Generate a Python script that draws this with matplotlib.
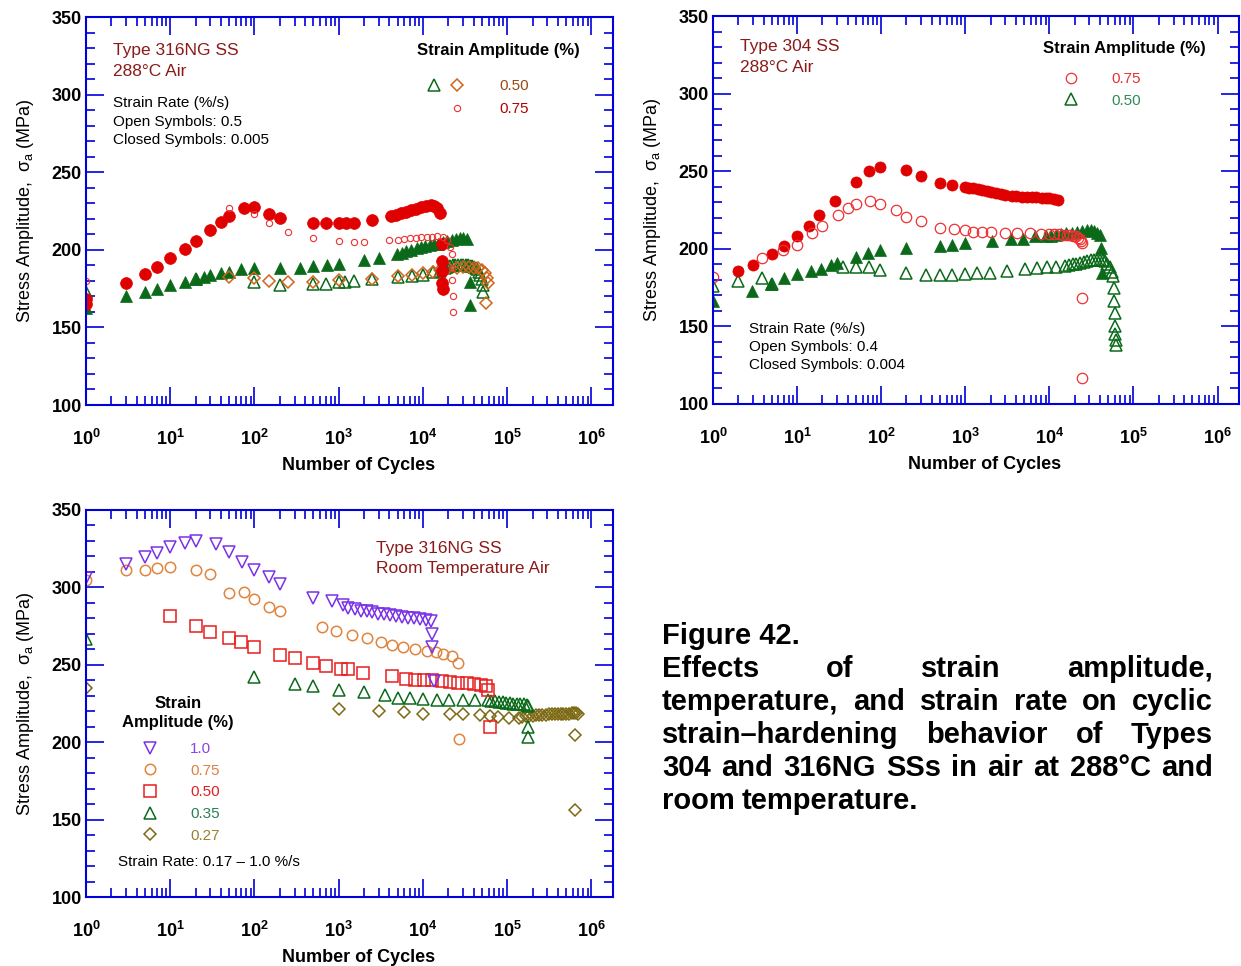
import matplotlib
matplotlib.use('Agg')
import matplotlib.pyplot as plt
from matplotlib.lines import Line2D
from matplotlib.legend_handler import HandlerTuple
from matplotlib.ticker import FixedLocator, FuncFormatter, LogLocator, MultipleLocator, NullFormatter
import numpy as np

plt.rcParams['font.family'] = ['Liberation Sans', 'DejaVu Sans']
plt.rcParams['font.weight'] = 'bold'
plt.rcParams['mathtext.fontset'] = 'custom'
plt.rcParams['mathtext.rm'] = 'Liberation Sans'

W, H = 1241, 966

# ---------------- Type 316NG SS, 288C air ----------------
# 0.75 %, slow (closed circles)
n316_075_slow = [1, 1, 3, 5, 7, 10, 15, 20, 30, 40, 50, 75, 100, 150, 200, 500, 700, 1000, 1230, 1500,
                 2500, 4200, 4800, 5500, 6300, 7200, 8300, 9500, 11000, 12300, 13500, 14800, 15800,
                 16600, 16800, 17000, 17000, 17200]
s316_075_slow = [168, 165, 178.5, 184.5, 189, 194.5, 200.5, 205.5, 213, 218, 222, 227, 227.5, 223, 220.5,
                 217.5, 217.5, 217.5, 217.5, 217.5, 219, 221.5, 222.5, 223.5, 224.5, 225.5, 226.5, 227.5,
                 228.5, 229, 228.5, 227, 224, 204, 193, 186.5, 178.5, 175]
# 0.75 %, fast (small open circles)
n316_075_fast = [1, 50, 100, 150, 250, 500, 1000, 1500, 2000, 4000, 5100, 6000, 7100, 8300, 9500, 11200,
                 12900, 14800, 17400, 19500, 21000, 21900, 21900, 21900, 22400, 22900]
s316_075_fast = [180, 227, 223, 217, 211.5, 207.5, 205.5, 205, 205, 206, 206.5, 207, 207.5, 207.5, 208,
                 208.5, 208.5, 209, 208.5, 206, 202, 197.5, 188, 180.5, 170.5, 160]
# 0.50 %, slow (closed triangles)
n316_050_slow = [1, 3, 5, 7, 10, 15, 20, 25, 30, 40, 50, 70, 100, 200, 350, 500, 720, 1000, 2000, 3000,
                 4900, 5600, 6300, 7200, 8500, 9500, 10700, 12000, 13500, 15200, 17400, 19500, 21900,
                 24500, 27500, 30000, 33000, 36300, 36300]
s316_050_slow = [162.5, 170, 172.5, 174.5, 177.5, 179.5, 181.5, 182.5, 184, 185, 186, 187.5, 188, 188,
                 188.5, 189.5, 190, 191, 193.5, 194.5, 197, 198, 199, 200, 201, 201.5, 202.5, 203, 203.5,
                 204, 205, 205.5, 206, 207, 207.5, 207.5, 207, 179.5, 164.5]
# 0.50 %, fast (open triangles)
n316_050_fast = [1, 20, 100, 200, 500, 700, 1000, 1200, 1500, 2500, 5000, 7500, 10000, 13000, 16000,
                 18000, 19500, 21000, 22500, 24000, 26000, 28000, 30000, 32000, 34000, 36000, 38000,
                 40000, 42000, 44000, 46000, 48000, 50000, 51000, 52000]
s316_050_fast = [173, 181, 179, 177.5, 178, 178, 179, 179.5, 180, 181, 182.5, 183, 184, 185.5, 186.5,
                 188, 189, 189.5, 190, 190, 190, 190, 190, 190, 190, 189.5, 189.5, 189, 188.5, 187.5,
                 186, 184, 181, 177.5, 173]
# 0.50 %, open diamonds
n316_050_dia = [50, 100, 150, 250, 500, 1000, 2500, 5000, 7500, 10000, 13000, 16000, 20000, 25000,
                30000, 35000, 40000, 45000, 50000, 55000, 58000, 59000, 56000]
s316_050_dia = [182.5, 182, 180, 179, 179, 180.5, 181.5, 183, 184, 185, 186, 187, 188, 188.5, 189, 189,
                188.5, 188, 187, 185, 182, 178.5, 165.5]

# ---------------- Type 304 SS, 288C air ----------------
n304_075_slow = [2, 3, 5, 7, 10, 14, 18, 28, 50, 72, 98, 200, 300, 500, 700, 980, 1100, 1230, 1400,
                 1580, 1800, 2000, 2300, 2630, 3000, 3550, 4000, 4680, 5400, 6170, 7000, 8130, 9000,
                 10000, 11300, 12600]
s304_075_slow = [186, 189.5, 196.5, 202, 208, 214.5, 221.5, 231, 243, 250, 253, 251, 247, 242.5, 241,
                 239.5, 239, 239, 238.5, 238, 237.5, 236.5, 236, 235, 234.5, 234, 234, 233.5, 233.5,
                 233.5, 233.5, 233, 233, 232.5, 232, 231.5]
n304_075_fast = [1, 3.8, 6.8, 10, 15, 20, 31, 40, 50, 74, 98, 150, 200, 295, 500, 740, 1000, 1230, 1580,
                 2000, 2950, 4170, 5890, 7940, 10000, 11500, 13000, 14500, 16000, 17500, 19000, 20500,
                 22000, 23000, 24000, 24500, 24500, 24500]
s304_075_fast = [182, 194, 199.5, 202.5, 210, 214.5, 221.5, 226, 229, 231, 229, 225, 220.5, 218, 213.5,
                 212.5, 212, 211, 211, 211, 210, 210, 210, 209.5, 209.5, 209.5, 209.5, 209, 209, 209,
                 208.5, 208, 207, 206, 205, 203.5, 168.5, 117]
n304_050_slow = [1, 2.9, 4.9, 6.9, 10, 14.5, 19, 25, 30, 50, 69, 98, 200, 500, 700, 1000, 2100, 3500,
                 4900, 6800, 9100, 10500, 12000, 13800, 15800, 18500, 21400, 24500, 28200, 31000, 33900,
                 36500, 39800, 40700, 41700]
s304_050_slow = [166.5, 173, 177, 181, 183.5, 185.5, 187, 189.5, 191, 195, 197, 199.5, 200.5, 201.5,
                 202.5, 203.5, 205, 206, 206.5, 208, 208, 208.5, 209, 209.5, 210, 210.5, 211, 211.5, 212,
                 212, 211.5, 210.5, 209, 200.5, 184.5]
n304_050_fast = [1, 2, 3.8, 5, 35, 50, 72, 98, 200, 345, 500, 700, 1000, 1380, 1950, 3150, 5100, 7200,
                 9500, 12000, 15500, 17000, 19000, 21000, 23000, 25500, 28000, 31000, 34000, 37000,
                 40000, 43000, 46000, 49000, 52000, 55000, 57000, 58000, 59000, 60000, 60500, 61000,
                 61500, 62000]
s304_050_fast = [176, 179, 181, 177, 188.5, 188.5, 188, 186.5, 184.5, 183, 183, 183, 184, 184.5, 184.5,
                 185.5, 187, 187.5, 188, 188.5, 189, 189.5, 190, 190.5, 191, 191.5, 192, 192.5, 193, 193,
                 193, 192.5, 192, 190.5, 188, 185, 182.5, 174.5, 166.5, 158.5, 150, 145, 141, 138]

# ---------------- Type 316NG SS, room temperature air ----------------
nrt_100 = [1, 3, 5, 7, 10, 15, 20, 35, 50, 72, 100, 150, 200, 500, 830, 1120, 1290, 1550, 1820, 2140,
           2500, 2950, 3450, 4050, 4750, 5600, 6600, 7800, 9200, 10800, 12300, 12900, 12900, 13500]
srt_100 = [306, 315, 319.5, 322.5, 326, 328.5, 330, 328, 323, 316.5, 311.5, 306.5, 302.5, 293, 291,
           288.5, 287, 286, 285, 284.5, 284, 283, 282.5, 282, 281.5, 281, 280.5, 280, 279.5, 279, 278,
           270, 261.5, 239.5]
nrt_075 = [1, 3, 5, 7, 10, 20, 30, 50, 75, 100, 150, 200, 630, 920, 1450, 2150, 3200, 4300, 5800, 8100,
           11200, 14100, 17400, 21900, 25700, 27000]
srt_075 = [305, 311, 311.5, 312.5, 313.5, 311.5, 308.5, 296.5, 297, 292.5, 287.5, 285, 274.5, 272,
           269.5, 267, 265, 263, 261.5, 260, 259, 258, 257, 255.5, 251, 202]
nrt_050 = [10, 20, 30, 50, 70, 100, 200, 300, 500, 700, 1060, 1290, 1950, 4300, 6300, 8100, 10200, 12900,
           16600, 20900, 26300, 33100, 40700, 49000, 56200, 59000, 61700]
srt_050 = [281.5, 275, 271.5, 267.5, 264.5, 261.5, 256.5, 254.5, 251, 249.5, 247.5, 247.5, 245, 242.5,
           241, 240.5, 240, 240, 239.5, 239, 238.5, 238.5, 237.5, 237, 236, 234, 209.5]
nrt_035 = [1, 100, 300, 500, 1000, 2000, 3500, 5100, 7100, 10000, 14500, 20400, 30200, 41700, 58900,
           65000, 72000, 80000, 88000, 97000, 107000, 118000, 130000, 143000, 157000, 170000, 178000,
           178000, 178000]
srt_035 = [266.5, 242, 237.5, 236.5, 233.5, 232.5, 230.5, 228.5, 228.5, 228, 227.5, 227.5, 227.5, 227.5,
           227, 226.5, 226.5, 226, 226, 225.5, 225.5, 225, 225, 224.5, 224.5, 224, 223.5, 210, 203.5]
nrt_027 = [1, 1000, 3000, 6000, 10000, 21000, 30000, 47000, 62000, 78000, 105000, 138000, 150000,
           165000, 180000, 200000, 220000, 240000, 260000, 285000, 310000, 340000, 370000, 400000,
           430000, 460000, 500000, 540000, 580000, 620000, 660000, 700000, 630000, 630000]
srt_027 = [235, 221.5, 220, 219.5, 218.5, 218, 218, 217.5, 217, 216.5, 215.5, 215.5, 216.5, 217, 217,
           217, 217.5, 217.5, 217.5, 217.5, 218, 218, 218, 218, 218, 218.5, 218.5, 218.5, 219, 219,
           219, 218.5, 204.5, 156]

RED = '#e00000'
GREEN = '#0b6a1a'
ORANGE = '#d0641a'
PURPLE = '#7a32e6'
ORANGE_C = '#e0843e'
RED_SQ = '#e81e1e'
OLIVE = '#7d6914'
DARKRED = '#8b1a1a'
AXBLUE = '#0000dc'


def fx(x):
    return x / W


def fy(y):
    return 1 - y / H


def setup(ax):
    ax.set_xscale('log')
    ax.set_xlim(1, 1.8e6)
    ax.set_ylim(100, 350)
    ax.xaxis.set_major_locator(FixedLocator(10.0 ** np.arange(0, 7)))
    ax.xaxis.set_minor_locator(LogLocator(base=10, subs=np.arange(2, 10), numticks=30))
    ax.xaxis.set_major_formatter(FuncFormatter(lambda v, p: r'$\mathregular{10^{%d}}$' % round(np.log10(v))))
    ax.xaxis.set_minor_formatter(NullFormatter())
    ax.yaxis.set_major_locator(MultipleLocator(50))
    ax.yaxis.set_minor_locator(MultipleLocator(10))
    ax.tick_params(which='both', direction='in', top=True, right=True, color=AXBLUE, width=1.2,
                   labelsize=13)
    ax.tick_params(which='major', length=13)
    ax.tick_params(which='minor', length=6.5)
    ax.tick_params(axis='x', pad=17)
    ax.tick_params(axis='y', pad=3)
    for s in ax.spines.values():
        s.set_color(AXBLUE)
        s.set_linewidth(1.5)
    ax.set_xlabel('Number of Cycles', fontsize=13, fontweight='bold', labelpad=6)
    ax.xaxis.label.set_x(0.517)
    ax.set_ylabel('Stress Amplitude,  σ$_\\mathregular{a}$ (MPa)', fontsize=13, fontweight='normal',
                  labelpad=11)


def lines(fig, x, ys, texts, **kw):
    for y, t in zip(ys, texts):
        fig.text(fx(x), fy(y), t, va='center', ha='left', **kw)


def opn(ax, n, s, marker, color, ms, mew=1.1):
    return ax.plot(n, s, ls='none', marker=marker, ms=ms, mfc='none', mec=color, mew=mew)[0]


def cls(ax, n, s, marker, color, ms):
    return ax.plot(n, s, ls='none', marker=marker, ms=ms, color=color, mec=color, mew=0.5)[0]


fig = plt.figure(figsize=(W / 100, H / 100), dpi=100)
ax1 = fig.add_axes([fx(86), fy(405), (613 - 86) / W, (405 - 17) / H])
ax2 = fig.add_axes([fx(713), fy(404), (1239 - 713) / W, (404 - 16) / H])
ax3 = fig.add_axes([fx(86), fy(897), (613 - 86) / W, (897 - 510) / H])
for ax in (ax1, ax2, ax3):
    setup(ax)

# ---- panel 1 ----
cls(ax1, n316_050_slow, s316_050_slow, '^', GREEN, 9)
h_tri = opn(ax1, n316_050_fast, s316_050_fast, '^', GREEN, 8.5)
h_dia = opn(ax1, n316_050_dia, s316_050_dia, 'D', ORANGE, 6.5)
cls(ax1, n316_075_slow, s316_075_slow, 'o', RED, 8.5)
h_cir = opn(ax1, n316_075_fast, s316_075_fast, 'o', '#f03030', 4.5, 0.8)
blank = Line2D([], [], ls='none', marker=None)
leg = ax1.legend([(h_tri, h_dia), (blank, h_cir)], ['0.50', '0.75'],
                 handler_map={tuple: HandlerTuple(ndivide=None, pad=0)},
                 loc='upper left', bbox_to_anchor=(fx(423), fy(79)), bbox_transform=fig.transFigure,
                 frameon=False, borderpad=0, borderaxespad=0, numpoints=1, handlelength=3.0,
                 handletextpad=2.0, labelspacing=0.6, prop=dict(size=11, weight='normal'))
for t, c in zip(leg.get_texts(), ['#9a4a10', '#b00000']):
    t.set_color(c)
fig.text(fx(417), fy(51), 'Strain Amplitude (%)', fontsize=12, va='center')
lines(fig, 113, [51, 71], ['Type 316NG SS', '288°C Air'], fontsize=12.5, color=DARKRED, fontweight='normal')
lines(fig, 113, [103, 122, 140], ['Strain Rate (%/s)', 'Open Symbols: 0.5', 'Closed Symbols: 0.005'],
      fontsize=11, fontweight='normal')

# ---- panel 2 ----
cls(ax2, n304_050_slow, s304_050_slow, '^', GREEN, 9)
h2_tri = opn(ax2, n304_050_fast, s304_050_fast, '^', GREEN, 8.5)
cls(ax2, n304_075_slow, s304_075_slow, 'o', RED, 8)
h2_cir = opn(ax2, n304_075_fast, s304_075_fast, 'o', '#f03030', 7.5, 0.9)
leg2 = ax2.legend([h2_cir, h2_tri], ['0.75', '0.50'], loc='upper left',
                  bbox_to_anchor=(fx(1056), fy(72)), bbox_transform=fig.transFigure,
                  frameon=False, borderpad=0, borderaxespad=0, numpoints=1, handlelength=2.0,
                  handletextpad=1.6, labelspacing=0.5, prop=dict(size=11, weight='normal'))
for t, c in zip(leg2.get_texts(), ['#e83030', '#2e8b57']):
    t.set_color(c)
fig.text(fx(1043), fy(49), 'Strain Amplitude (%)', fontsize=12, va='center')
lines(fig, 740, [47, 68], ['Type 304 SS', '288°C Air'], fontsize=12.5, color=DARKRED, fontweight='normal')
lines(fig, 749, [329, 347, 365], ['Strain Rate (%/s)', 'Open Symbols: 0.4', 'Closed Symbols: 0.004'],
      fontsize=11, fontweight='normal')

# ---- panel 3 ----
h3_027 = opn(ax3, nrt_027, srt_027, 'D', OLIVE, 6.5)
h3_035 = opn(ax3, nrt_035, srt_035, '^', GREEN, 8.5)
h3_050 = opn(ax3, nrt_050, srt_050, 's', RED_SQ, 8.5)
h3_075 = opn(ax3, nrt_075, srt_075, 'o', ORANGE_C, 7.5)
h3_100 = opn(ax3, nrt_100, srt_100, 'v', PURPLE, 8.5)
leg3 = ax3.legend([h3_100, h3_075, h3_050, h3_035, h3_027], ['1.0', '0.75', '0.50', '0.35', '0.27'],
                  loc='upper left', bbox_to_anchor=(fx(135), fy(742)), bbox_transform=fig.transFigure,
                  frameon=False, borderpad=0, borderaxespad=0, numpoints=1, handlelength=2.0,
                  handletextpad=1.6, labelspacing=0.5, prop=dict(size=11, weight='normal'))
for t, c in zip(leg3.get_texts(), ['#9040e0', '#e08040', '#e02020', '#2a8050', '#9a8030']):
    t.set_color(c)
fig.text(fx(178), fy(703), 'Strain', fontsize=12, va='center', ha='center')
fig.text(fx(178), fy(722), 'Amplitude (%)', fontsize=12, va='center', ha='center')
fig.text(fx(118), fy(862), 'Strain Rate: 0.17 – 1.0 %/s', fontsize=11, va='center', fontweight='normal')
lines(fig, 376, [548, 569], ['Type 316NG SS', 'Room Temperature Air'], fontsize=12.5, color=DARKRED,
      fontweight='normal')

# ---- caption, justified ----
CAP_L, CAP_R = 662, 1213
fig.text(fx(CAP_L), fy(636), 'Figure 42.', fontsize=21, va='center')
cap_lines = ['Effects of strain amplitude,',
             'temperature, and strain rate on cyclic',
             'strain–hardening behavior of Types',
             '304 and 316NG SSs in air at 288°C and',
             'room temperature.']
renderer = fig.canvas.get_renderer()
for i, line in enumerate(cap_lines):
    y = 669 + 33 * i
    words = line.split(' ')
    objs = [fig.text(0, fy(y), w, fontsize=21, va='center') for w in words]
    widths = [o.get_window_extent(renderer).width for o in objs]
    if i == len(cap_lines) - 1:
        gap = objs[0].get_window_extent(renderer).height * 0.25
    else:
        gap = (CAP_R - CAP_L - sum(widths)) / (len(words) - 1)
    x = CAP_L
    for o, w in zip(objs, widths):
        o.set_x(fx(x))
        x += w + gap

fig.savefig('out.png', dpi=100)
